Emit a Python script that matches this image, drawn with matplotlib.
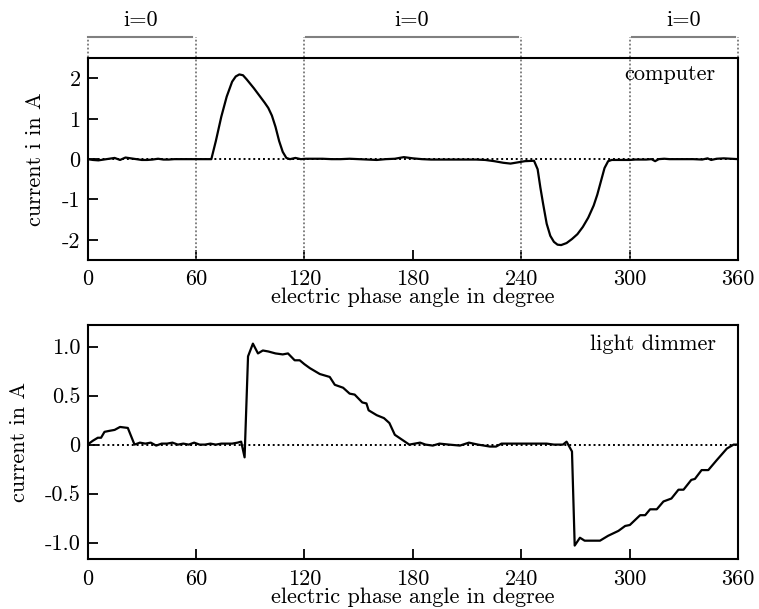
import matplotlib
matplotlib.use("Agg")
import matplotlib.pyplot as plt
import matplotlib.transforms as mtransforms

plt.rcParams['font.family'] = ['cmr10', 'DejaVu Serif']
plt.rcParams['axes.formatter.use_mathtext'] = True
plt.rcParams['font.size'] = 16

# ---------------- data ----------------
comp_x = [0, 3, 6, 9, 12, 15, 18, 21, 24, 27, 30, 33, 36, 39, 42, 45, 48, 51, 54, 57, 60, 63, 66, 68.5,
          71, 74, 77, 80, 82, 84, 86, 88, 90, 92, 94, 96, 98, 100, 102, 104, 106, 108, 110, 112, 115, 118,
          121, 125, 130, 135, 140, 145, 150, 155, 160, 165, 170, 175, 180, 185, 190, 195, 200, 205, 210,
          215, 220, 225, 230, 234, 238, 242, 247,
          249, 250.5, 252, 254, 256, 258, 260, 262, 265, 268, 271, 274, 277, 280, 282, 284, 286, 288, 290,
          293, 296, 300, 303, 306, 309, 312, 314, 316, 319, 322, 325, 330, 335, 340, 343, 345, 348, 352,
          356, 360]
comp_y = [0.0, -0.02, -0.03, -0.01, 0.01, 0.03, -0.02, 0.04, 0.02, 0.0, -0.02, -0.02, -0.01, 0.01, -0.01,
          -0.01, 0.0, 0.0, 0.0, 0.0, 0.0, 0.0, 0.0, 0.0,
          0.45, 1.05, 1.55, 1.92, 2.05, 2.1, 2.08, 1.98, 1.87, 1.76, 1.64, 1.52, 1.4, 1.27, 1.08, 0.8, 0.45,
          0.18, 0.03, 0.0, 0.03, 0.0,
          0.01, 0.01, 0.01, 0.0, 0.0, 0.01, 0.0, -0.01, -0.02, 0.0, 0.01, 0.05, 0.02, 0.0, -0.01, -0.01,
          -0.01, -0.01, -0.01, -0.01, -0.02, -0.05, -0.09, -0.11, -0.08, -0.05, -0.04,
          -0.25, -0.7, -1.1, -1.6, -1.9, -2.05, -2.12, -2.13, -2.08, -1.98, -1.86, -1.68, -1.45, -1.15,
          -0.88, -0.55, -0.22, -0.05, -0.02,
          -0.02, -0.02, -0.02, -0.01, -0.01, -0.01, 0.0, -0.05, 0.0, 0.01, 0.0, 0.0, 0.0, 0.0, -0.01, 0.02,
          -0.02, 0.01, 0.02, 0.01, 0.0]

dim_x = [0, 3, 5.7, 7.5, 9.4, 12, 15, 18, 22.3, 26, 29, 32, 35, 38, 41, 44, 47, 50, 53, 56, 59, 62, 65,
         68, 71, 74, 77, 80, 83, 85, 86.9, 88.8, 91.5, 94.3, 97, 100, 104, 108, 110.9, 114.6, 117.4, 120,
         123, 128.5, 134, 136.8, 141.4, 145, 147.8, 152, 154.3, 155.5, 160, 164, 167, 170, 174, 178, 181,
         184, 187, 191, 194.7, 200, 206, 211, 216, 222.6, 226, 229, 235, 240, 245, 250, 254, 258, 263,
         265, 266.5, 268, 269.5, 272.4, 275, 279, 283.5, 288, 293.7, 297.4, 300, 305.7, 308.5, 311.2,
         314.9, 318.6, 323, 326.9, 329.7, 334, 336, 339.7, 343.4, 348, 353.7, 357.4, 360]
dim_y = [0.0, 0.04, 0.07, 0.07, 0.13, 0.14, 0.15, 0.18, 0.17, 0.0, 0.02, 0.01, 0.02, -0.01, 0.01, 0.01,
         0.02, 0.0, 0.01, 0.0, 0.02, 0.0, 0.0, 0.01, 0.0, 0.01, 0.01, 0.01, 0.02, 0.03, -0.13, 0.9, 1.03,
         0.93, 0.96, 0.95, 0.93, 0.92, 0.93, 0.86, 0.86, 0.82, 0.78, 0.72, 0.69, 0.61, 0.58, 0.52, 0.51,
         0.43, 0.42, 0.35, 0.3, 0.27, 0.22, 0.1, 0.05, 0.0, 0.01, 0.02, 0.0, -0.01, 0.01, 0.0, -0.01,
         0.02, 0.0, -0.02, -0.02, 0.01, 0.01, 0.01, 0.01, 0.01, 0.01, 0.0, 0.0, 0.03, -0.02, -0.07,
         -1.03, -0.95, -0.98, -0.98, -0.98, -0.93, -0.88, -0.83, -0.82, -0.72, -0.72, -0.66, -0.66,
         -0.58, -0.55, -0.46, -0.46, -0.36, -0.35, -0.26, -0.26, -0.16, -0.04, 0.0, 0.0]

x_ticks = [0, 60, 120, 180, 240, 300, 360]
x_tick_labels = ["0", "60", "120", "180", "240", "300", "360"]
top_yticks = [-2, -1, 0, 1, 2]
top_ytick_labels = ["-2", "-1", "0", "1", "2"]
bot_yticks = [-1.0, -0.5, 0, 0.5, 1.0]
bot_ytick_labels = ["-1.0", "-0.5", "0", "0.5", "1.0"]
zero_marks = [0, 60, 120, 240, 300, 360]
zero_intervals = [(0.5, 58), (121, 238), (301, 358)]
zero_label = "i=0"

# ---------------- figure ----------------
fig = plt.figure(figsize=(7.59, 6.09), dpi=100)
W, H = 759, 609
ax1 = fig.add_axes([87.5 / W, 1 - 260 / H, (738.3 - 87.5) / W, (260 - 58.3) / H])
ax2 = fig.add_axes([87.5 / W, 1 - 559.3 / H, (738.3 - 87.5) / W, (559.3 - 325) / H])

for ax in (ax1, ax2):
    ax.set_xlim(0, 360)
    ax.set_xticks(x_ticks)
    ax.set_xticklabels(x_tick_labels)
    ax.tick_params(direction='in', length=7, width=1.3, top=False, right=False, pad=5)
    ax.tick_params(axis='x', pad=7)
    for s in ax.spines.values():
        s.set_linewidth(1.5)
    ax.axhline(0, color='black', linestyle=(0, (1, 1.5)), linewidth=1.4, zorder=1)
    ax.set_xlabel("electric phase angle in degree", labelpad=-1)

# top axes
ax1.set_ylim(-2.5, 2.5)
ax1.set_yticks(top_yticks)
ax1.set_yticklabels(top_ytick_labels)
ax1.set_ylabel("current i in A", labelpad=12.5)
trans = mtransforms.blended_transform_factory(ax1.transData, ax1.transAxes)
for xm in zero_marks:
    ax1.plot([xm, xm], [0, 1.104], transform=trans, color='#777777', linestyle=(0, (1, 1.2)),
             linewidth=1.3, clip_on=False, zorder=2)
for a, b in zero_intervals:
    ax1.plot([a, b], [1.104, 1.104], transform=trans, color='#808080', linewidth=1.5, clip_on=False)
    ax1.text((a + b) / 2, 1.19, zero_label, transform=trans, ha='center', va='center')
ax1.plot(comp_x, comp_y, color='black', linewidth=1.6, zorder=3)
ax1.text(0.965, 0.92, "computer", transform=ax1.transAxes, ha='right', va='center')

# bottom axes
ax2.set_ylim(-1.17, 1.22)
ax2.set_yticks(bot_yticks)
ax2.set_yticklabels(bot_ytick_labels)
ax2.set_ylabel("current in A", labelpad=11)
ax2.plot(dim_x, dim_y, color='black', linewidth=1.6, zorder=3)
ax2.text(0.965, 0.92, "light dimmer", transform=ax2.transAxes, ha='right', va='center')

fig.savefig("out.png", dpi=100)
